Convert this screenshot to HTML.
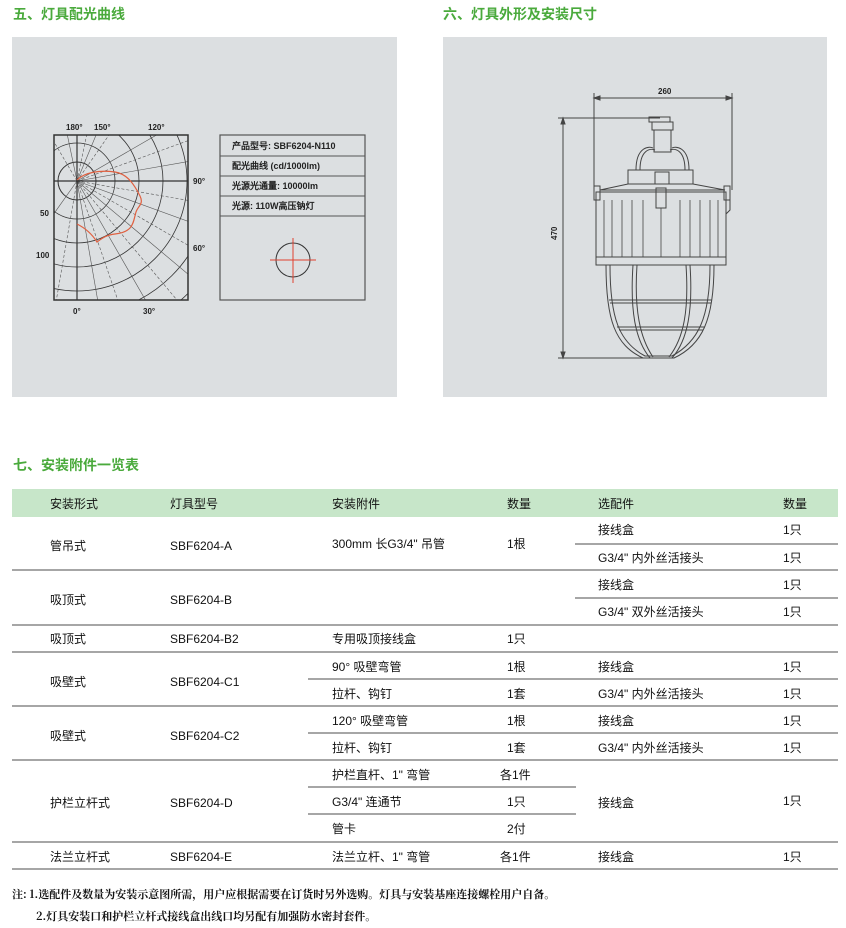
<!DOCTYPE html>
<html><head><meta charset="utf-8"><style>
body{margin:0;width:846px;height:928px;background:#fff;position:relative;font-family:"Liberation Sans","Noto Sans CJK SC",sans-serif;overflow:hidden}
.t{position:absolute;color:#4aaa3c;font-weight:bold;font-size:14px;font-family:"Noto Sans CJK SC",sans-serif}
.p{position:absolute;background:#dcdfe1}
.c{position:absolute;font-size:12px;line-height:14px;color:#111;white-space:nowrap}
.l{position:absolute;height:2px;background:#a6a6a6}
.n{position:absolute;font-size:11px;color:#111;font-family:"Noto Serif CJK SC",serif;font-weight:bold}
</style></head><body>
<div class="t" style="left:13px;top:4px">五、灯具配光曲线</div>
<div class="t" style="left:443px;top:4px">六、灯具外形及安装尺寸</div>
<div class="p" style="left:12px;top:37px;width:385px;height:360px"></div>
<div class="p" style="left:443px;top:37px;width:384px;height:360px"></div>
<svg style="position:absolute;left:0;top:0" width="846" height="400">
<defs><clipPath id="bx"><rect x="54" y="135" width="134" height="165"/></clipPath></defs>
<g clip-path="url(#bx)" fill="none" stroke="#333" stroke-width="0.8">
<circle cx="77" cy="181" r="19" stroke-width="1"/>
<circle cx="77" cy="181" r="38"/><circle cx="77" cy="181" r="62"/><circle cx="77" cy="181" r="86"/><circle cx="77" cy="181" r="110"/><circle cx="77" cy="181" r="134"/><circle cx="77" cy="181" r="158"/>
<g stroke="#555" stroke-width="0.6">
<line x1="77" y1="181" x2="77" y2="400"/><line x1="77" y1="181" x2="77" y2="0"/><line x1="77" y1="181" x2="300" y2="181"/><line x1="77" y1="181" x2="0" y2="181"/>
<line x1="77" y1="181" x2="115" y2="400"/><line x1="77" y1="181" x2="152" y2="400" stroke-dasharray="3 2"/><line x1="77" y1="181" x2="203" y2="400"/><line x1="77" y1="181" x2="261" y2="400" stroke-dasharray="3 2"/><line x1="77" y1="181" x2="338" y2="400"/><line x1="77" y1="181" x2="300" y2="310" stroke-dasharray="3 2"/><line x1="77" y1="181" x2="300" y2="262"/><line x1="77" y1="181" x2="300" y2="220" stroke-dasharray="3 2"/>
<line x1="77" y1="181" x2="300" y2="142"/><line x1="77" y1="181" x2="300" y2="100" stroke-dasharray="3 2"/><line x1="77" y1="181" x2="300" y2="52"/><line x1="77" y1="181" x2="203" y2="0" stroke-dasharray="3 2"/><line x1="77" y1="181" x2="152" y2="0"/><line x1="77" y1="181" x2="115" y2="0" stroke-dasharray="3 2"/>
<line x1="77" y1="181" x2="39" y2="0"/><line x1="77" y1="181" x2="0" y2="50" stroke-dasharray="3 2"/><line x1="77" y1="181" x2="0" y2="290"/><line x1="77" y1="181" x2="39" y2="400" stroke-dasharray="3 2"/>
</g></g>
<rect x="54" y="135" width="134" height="165" fill="none" stroke="#333" stroke-width="1.5"/>
<line x1="54" y1="181" x2="188" y2="181" stroke="#333" stroke-width="1.2"/><line x1="77" y1="135" x2="77" y2="300" stroke="#333" stroke-width="1.2"/>
<path d="M77,180 C85,172 100,170 115,172 C128,174 135,186 140,196 C144,204 138,206 136,212 C133,222 134,232 115,234 C105,235 100,240 97,242 C92,234 85,228 77,224" fill="none" stroke="#e06040" stroke-width="1.2"/>
<rect x="220" y="135" width="145" height="165" fill="none" stroke="#555" stroke-width="1.2"/>
<g stroke="#555" stroke-width="1"><line x1="220" y1="156" x2="365" y2="156"/><line x1="220" y1="176" x2="365" y2="176"/><line x1="220" y1="196" x2="365" y2="196"/><line x1="220" y1="216" x2="365" y2="216"/></g>
<circle cx="293" cy="260" r="17" fill="none" stroke="#333" stroke-width="1"/>
<line x1="270" y1="260" x2="316" y2="260" stroke="#e04030"/><line x1="293" y1="238" x2="293" y2="283" stroke="#e04030"/>
<g font-size="8" font-weight="bold" fill="#222" font-family="Liberation Sans">
<text x="66" y="130">180°</text><text x="94" y="130">150°</text><text x="148" y="130">120°</text><text x="193" y="184">90°</text><text x="193" y="251">60°</text><text x="73" y="314">0°</text><text x="143" y="314">30°</text><text x="40" y="216">50</text><text x="36" y="258">100</text>
<text x="232" y="149" font-size="9">产品型号:  SBF6204-N110</text><text x="232" y="169" font-size="9">配光曲线 (cd/1000lm)</text><text x="232" y="189" font-size="9">光源光通量:  10000lm</text><text x="232" y="209" font-size="9">光源:  110W高压钠灯</text>
</g>
<g stroke="#444" fill="none" stroke-width="1">
<line x1="594" y1="98" x2="732" y2="98"/><line x1="594" y1="93" x2="594" y2="190"/><line x1="732" y1="93" x2="732" y2="190"/>
<path d="M594,98 l6,-2 v4z M732,98 l-6,-2 v4z" fill="#444"/>
<line x1="563" y1="118" x2="563" y2="358"/><line x1="558" y1="118" x2="660" y2="118"/><line x1="558" y1="358" x2="670" y2="358"/>
<path d="M563,118 l-2,6 h4z M563,358 l-2,-6 h4z" fill="#444"/>
<rect x="649" y="117" width="21" height="5"/><rect x="652" y="122" width="21" height="8"/><rect x="654" y="130" width="17" height="22"/>
<path d="M640,170 C640,150 650,148 655,150 M685,170 C685,150 675,148 670,150 M636,170 C636,146 650,146 653,148 M689,170 C689,146 675,146 672,148"/>
<rect x="628" y="170" width="65" height="14"/><rect x="655" y="172" width="14" height="12"/>
<path d="M600,190 L628,184 H693 L725,190 Z"/>
<rect x="596" y="192" width="130" height="73"/><rect x="596" y="257" width="130" height="8"/>
<rect x="594" y="186" width="6" height="14"/><rect x="724" y="186" width="6" height="14"/><path d="M730,194 v16 l-4,4"/>
<rect x="656" y="188" width="10" height="20"/>
<g stroke-width="0.8"><line x1="604" y1="200" x2="604" y2="257"/><line x1="612" y1="200" x2="612" y2="257"/><line x1="622" y1="200" x2="622" y2="257"/><line x1="632" y1="200" x2="632" y2="257"/><line x1="643" y1="200" x2="643" y2="257"/><line x1="661" y1="208" x2="661" y2="257"/><line x1="680" y1="200" x2="680" y2="257"/><line x1="690" y1="200" x2="690" y2="257"/><line x1="700" y1="200" x2="700" y2="257"/><line x1="710" y1="200" x2="710" y2="257"/><line x1="718" y1="200" x2="718" y2="257"/></g>
<path d="M606,265 C606,320 615,345 643,358 H674 C702,345 714,320 714,265"/>
<path d="M610,265 C610,318 619,342 645,356 H672 C698,342 710,318 710,265"/>
<path d="M633,265 C630,310 635,340 650,358 M690,265 C693,310 688,340 672,358 M637,265 C634,310 640,338 653,357 M686,265 C689,310 684,338 669,357"/>
<line x1="609" y1="300" x2="712" y2="300"/><line x1="610" y1="303" x2="711" y2="303"/><line x1="617" y1="327" x2="705" y2="327"/><line x1="619" y1="330" x2="703" y2="330"/>
</g>
<text x="658" y="94" font-size="8" font-weight="bold" fill="#222" font-family="Liberation Sans">260</text>
<text transform="translate(557,240) rotate(-90)" font-size="8" font-weight="bold" fill="#222" font-family="Liberation Sans">470</text>
</svg>
<div class="t" style="left:13px;top:455px">七、安装附件一览表</div>
<div style="position:absolute;left:12px;top:489px;width:826px;height:28px;background:#c7e6c9"></div>
<div class="c" style="left:50px;top:497px">安装形式</div><div class="c" style="left:170px;top:497px">灯具型号</div><div class="c" style="left:332px;top:497px">安装附件</div><div class="c" style="left:507px;top:497px">数量</div><div class="c" style="left:598px;top:497px">选配件</div><div class="c" style="left:783px;top:497px">数量</div>

<div class="l" style="left:575px;top:543px;width:263px"></div>
<div class="l" style="left:12px;top:569px;width:826px"></div>
<div class="l" style="left:575px;top:597px;width:263px"></div>
<div class="l" style="left:12px;top:624px;width:826px"></div>
<div class="l" style="left:12px;top:651px;width:826px"></div>
<div class="l" style="left:308px;top:678px;width:530px"></div>
<div class="l" style="left:12px;top:705px;width:826px"></div>
<div class="l" style="left:308px;top:732px;width:530px"></div>
<div class="l" style="left:12px;top:759px;width:826px"></div>
<div class="l" style="left:308px;top:786px;width:268px"></div>
<div class="l" style="left:308px;top:813px;width:268px"></div>
<div class="l" style="left:12px;top:841px;width:826px"></div>
<div class="l" style="left:12px;top:868px;width:826px"></div>

<div class="c" style="left:50px;top:539px">管吊式</div><div class="c" style="left:170px;top:539px">SBF6204-A</div><div class="c" style="left:332px;top:537px">300mm 长G3/4" 吊管</div><div class="c" style="left:507px;top:537px">1根</div>
<div class="c" style="left:598px;top:523px">接线盒</div><div class="c" style="left:783px;top:523px">1只</div>
<div class="c" style="left:598px;top:551px">G3/4" 内外丝活接头</div><div class="c" style="left:783px;top:551px">1只</div>
<div class="c" style="left:50px;top:593px">吸顶式</div><div class="c" style="left:170px;top:593px">SBF6204-B</div>
<div class="c" style="left:598px;top:578px">接线盒</div><div class="c" style="left:783px;top:578px">1只</div>
<div class="c" style="left:598px;top:605px">G3/4" 双外丝活接头</div><div class="c" style="left:783px;top:605px">1只</div>
<div class="c" style="left:50px;top:632px">吸顶式</div><div class="c" style="left:170px;top:632px">SBF6204-B2</div><div class="c" style="left:332px;top:632px">专用吸顶接线盒</div><div class="c" style="left:507px;top:632px">1只</div>
<div class="c" style="left:50px;top:675px">吸壁式</div><div class="c" style="left:170px;top:675px">SBF6204-C1</div>
<div class="c" style="left:332px;top:660px">90°  吸壁弯管</div><div class="c" style="left:507px;top:660px">1根</div><div class="c" style="left:598px;top:660px">接线盒</div><div class="c" style="left:783px;top:660px">1只</div>
<div class="c" style="left:332px;top:687px">拉杆、钩钉</div><div class="c" style="left:507px;top:687px">1套</div><div class="c" style="left:598px;top:687px">G3/4" 内外丝活接头</div><div class="c" style="left:783px;top:687px">1只</div>
<div class="c" style="left:50px;top:729px">吸壁式</div><div class="c" style="left:170px;top:729px">SBF6204-C2</div>
<div class="c" style="left:332px;top:714px">120°  吸壁弯管</div><div class="c" style="left:507px;top:714px">1根</div><div class="c" style="left:598px;top:714px">接线盒</div><div class="c" style="left:783px;top:714px">1只</div>
<div class="c" style="left:332px;top:741px">拉杆、钩钉</div><div class="c" style="left:507px;top:741px">1套</div><div class="c" style="left:598px;top:741px">G3/4" 内外丝活接头</div><div class="c" style="left:783px;top:741px">1只</div>
<div class="c" style="left:50px;top:796px">护栏立杆式</div><div class="c" style="left:170px;top:796px">SBF6204-D</div>
<div class="c" style="left:332px;top:768px">护栏直杆、1" 弯管</div><div class="c" style="left:500px;top:768px">各1件</div>
<div class="c" style="left:332px;top:795px">G3/4" 连通节</div><div class="c" style="left:507px;top:795px">1只</div>
<div class="c" style="left:332px;top:822px">管卡</div><div class="c" style="left:507px;top:822px">2付</div>
<div class="c" style="left:598px;top:796px">接线盒</div><div class="c" style="left:783px;top:794px">1只</div>
<div class="c" style="left:50px;top:850px">法兰立杆式</div><div class="c" style="left:170px;top:850px">SBF6204-E</div><div class="c" style="left:332px;top:850px">法兰立杆、1" 弯管</div><div class="c" style="left:500px;top:850px">各1件</div><div class="c" style="left:598px;top:850px">接线盒</div><div class="c" style="left:783px;top:850px">1只</div>
<div class="n" style="left:12px;top:886px">注: 1.选配件及数量为安装示意图所需，用户应根据需要在订货时另外选购。灯具与安装基座连接螺栓用户自备。</div>
<div class="n" style="left:36px;top:908px">2.灯具安装口和护栏立杆式接线盒出线口均另配有加强防水密封套件。</div>
</body></html>
